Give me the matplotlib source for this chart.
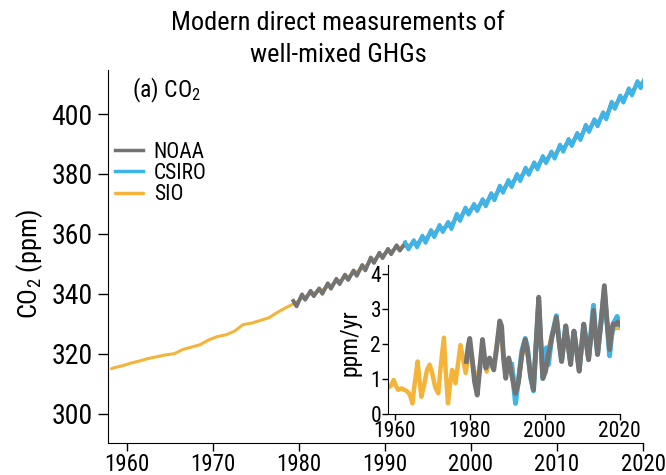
import numpy as np
import matplotlib
matplotlib.use("Agg")
import matplotlib.pyplot as plt
from matplotlib import font_manager

# prefer a narrow sans like the original, fall back to an Arial-like one
installed = {f.name for f in font_manager.fontManager.ttflist}
font = 'Liberation Sans'
for name in ['Liberation Sans Narrow', 'Roboto Condensed', 'Open Sans Condensed', 'Arial Narrow']:
    if name in installed:
        font = name
        break
plt.rcParams['font.family'] = [font, 'DejaVu Sans']
plt.rcParams['mathtext.fontset'] = 'custom'
plt.rcParams['mathtext.rm'] = font
plt.rcParams['mathtext.it'] = font

# colours
c_noaa = '#737373'
c_csiro = '#3db5ea'
c_sio = '#f4b43a'

# ---- main panel: CO2 concentration (ppm) ----
# SIO (Mauna Loa), smooth record
sio_t = [1958.2, 1958.5, 1959.5, 1960.5, 1961.5, 1962.5, 1963.5, 1964.5, 1965.5, 1966.5,
         1967.5, 1968.5, 1969.5, 1970.5, 1971.5, 1972.5, 1973.5, 1974.5, 1975.5, 1976.5,
         1977.5, 1978.5, 1979.5, 1980.5, 1981.5, 1982.5, 1983.5, 1984.5, 1985.5, 1986.5,
         1987.5, 1988.5, 1989.5, 1990.5, 1991.5, 1992.5, 1993.5, 1994.5, 1995.5, 1996.5,
         1997.5, 1998.5, 1999.5, 2000.5, 2001.5, 2002.5, 2003.5, 2004.5, 2005.5, 2006.5,
         2007.5, 2008.5, 2009.5, 2010.5, 2011.5, 2012.5, 2013.5, 2014.5, 2015.5, 2016.5,
         2017.5, 2018.5, 2019.5, 2020.0]
sio_ppm = [315.0, 315.3, 316.0, 316.9, 317.6, 318.4, 319.0, 319.6, 320.0, 321.4,
           322.2, 323.0, 324.6, 325.7, 326.3, 327.5, 329.7, 330.2, 331.1, 332.0,
           333.8, 335.4, 336.8, 338.8, 340.1, 341.0, 342.6, 344.1, 345.5, 346.9,
           348.7, 351.2, 352.8, 354.1, 355.3, 356.0, 356.8, 358.3, 360.2, 361.8,
           362.9, 365.5, 367.6, 368.8, 370.4, 372.4, 374.9, 376.8, 378.8, 380.9,
           382.7, 384.8, 386.3, 388.6, 390.5, 392.5, 395.2, 397.1, 399.4, 402.9,
           405.0, 407.4, 409.8, 410.8]

# NOAA global mean, seasonal high (spring) and low (late summer) per year
noaa_years = list(range(1979, 2021))
noaa_high = [337.6, 339.8, 341.0, 341.8, 343.5, 345.0, 346.4, 347.8, 349.6, 352.1,
             353.7, 355.0, 356.2, 356.9, 357.6, 359.1, 361.0, 362.7, 363.7, 366.4,
             368.5, 369.7, 371.3, 373.3, 375.8, 377.7, 379.7, 381.8, 383.6, 385.7,
             387.2, 389.5, 391.4, 393.4, 396.1, 398.0, 400.3, 403.8, 405.9, 408.3,
             410.7, 412.6]
noaa_low = [335.8, 338.0, 339.2, 340.0, 341.7, 343.2, 344.6, 346.0, 347.8, 350.3,
            351.9, 353.2, 354.4, 355.1, 355.8, 357.3, 359.2, 360.9, 361.9, 364.6,
            366.7, 367.9, 369.5, 371.5, 374.0, 375.9, 377.9, 380.0, 381.8, 383.9,
            385.4, 387.7, 389.6, 391.6, 394.3, 396.2, 398.5, 402.0, 404.1, 406.5,
            408.9, 411.1]

# CSIRO, seasonal high and low per year
csiro_years = list(range(1992, 2021))
csiro_high = [357.2, 357.9, 359.4, 361.3, 363.0, 364.0, 366.7, 368.8, 370.0, 371.6,
              373.6, 376.1, 378.0, 380.0, 382.1, 383.9, 386.0, 387.5, 389.8, 391.7,
              393.7, 396.4, 398.3, 400.6, 404.1, 406.2, 408.6, 411.0, 412.8]
csiro_low = [354.8, 355.5, 357.0, 358.9, 360.6, 361.6, 364.3, 366.4, 367.6, 369.2,
             371.2, 373.7, 375.6, 377.6, 379.7, 381.5, 383.6, 385.1, 387.4, 389.3,
             391.3, 394.0, 395.9, 398.2, 401.7, 403.8, 406.2, 408.6, 410.9]

# ---- inset: growth rate (ppm/yr) ----
sio_gr_t = [1958.2, 1959.0, 1959.7, 1960.3, 1960.9, 1961.4, 1961.8, 1962.5, 1963.1, 1963.8,
            1964.3, 1964.7, 1965.3, 1966.1, 1966.6, 1967.1, 1967.8, 1968.6, 1969.3, 1970.0,
            1970.8, 1971.6, 1972.3, 1973.1, 1973.6, 1974.2, 1974.7, 1975.3, 1975.8, 1976.2,
            1976.9, 1977.5, 1978.0, 1978.9, 1979.5, 1980.0, 1980.6, 1981.3, 1982.0, 1982.7,
            1983.4, 1984.0, 1984.5, 1985.3, 1986.4, 1987.2, 1988.0, 1989.0, 1989.6, 1990.4,
            1991.2, 1992.2, 1993.0, 1993.9, 1994.8, 1995.4, 1996.2, 1997.0, 1997.7, 1998.4,
            1998.9, 1999.5, 2000.3, 2001.0, 2001.9, 2003.1, 2003.8, 2004.5, 2005.6, 2006.9,
            2007.8, 2009.2, 2010.4, 2011.7, 2013.0, 2014.1, 2015.9, 2016.5, 2017.3, 2018.2,
            2019.0, 2020.0]
sio_gr = [0.74, 0.80, 0.96, 0.80, 0.68, 0.70, 0.72, 0.68, 0.65, 0.58,
          0.45, 0.29, 0.85, 1.49, 0.95, 0.48, 0.80, 1.25, 1.40, 1.15,
          0.75, 0.58, 1.40, 2.17, 1.20, 0.29, 0.80, 1.25, 1.05, 0.87,
          1.45, 1.96, 1.70, 1.16, 1.55, 1.95, 1.55, 1.10, 0.95, 1.40,
          1.90, 1.50, 1.20, 1.50, 1.30, 1.95, 2.55, 1.70, 1.10, 1.55,
          1.40, 0.75, 0.95, 1.65, 1.95, 1.70, 1.20, 0.80, 1.95, 3.10,
          2.10, 1.10, 1.40, 1.80, 2.25, 2.65, 2.05, 1.55, 2.45, 1.50,
          2.30, 1.30, 2.45, 1.60, 2.85, 1.80, 3.45, 2.70, 1.90, 2.40,
          2.45, 2.45]

noaa_gr_t = [1979.1, 1979.6, 1980.0, 1980.6, 1981.3, 1982.0, 1982.7, 1983.4, 1983.9, 1984.3,
             1984.8, 1985.3, 1985.9, 1986.4, 1987.2, 1988.0, 1988.5, 1989.0, 1989.6, 1990.0,
             1990.4, 1991.2, 1992.2, 1993.0, 1993.9, 1994.8, 1995.4, 1996.2, 1997.0, 1997.7,
             1998.4, 1998.9, 1999.5, 2000.2, 2001.0, 2001.9, 2003.1, 2003.8, 2004.5, 2005.0,
             2005.6, 2006.2, 2006.9, 2007.3, 2007.8, 2008.5, 2009.2, 2009.8, 2010.4, 2011.0,
             2011.7, 2012.4, 2013.0, 2013.5, 2014.1, 2015.0, 2015.9, 2016.5, 2017.3, 2017.8,
             2018.2, 2019.0, 2019.5, 2020.0]
noaa_gr = [1.49, 1.95, 2.15, 1.60, 0.90, 0.53, 1.30, 2.12, 1.65, 1.30,
           1.50, 1.59, 1.40, 1.25, 1.90, 2.65, 2.50, 1.60, 1.01, 1.35,
           1.59, 1.10, 0.58, 0.90, 1.70, 2.12, 1.80, 1.10, 0.68, 2.00,
           3.33, 2.20, 1.01, 1.20, 1.70, 2.17, 2.75, 2.10, 1.49, 1.95,
           2.51, 2.00, 1.40, 1.90, 2.36, 1.80, 1.21, 1.90, 2.56, 2.10,
           1.54, 2.30, 2.95, 2.30, 1.69, 2.60, 3.66, 2.80, 1.83, 2.30,
           2.56, 2.55, 2.62, 2.56]

csiro_gr_t = [1991.2, 1991.7, 1992.2, 1993.0, 1993.9, 1994.8, 1995.4, 1996.2, 1997.0, 1997.7,
              1998.4, 1998.9, 1999.5, 2000.4, 2001.0, 2001.9, 2003.1, 2003.8, 2004.5, 2005.0,
              2005.6, 2006.2, 2006.9, 2007.3, 2007.8, 2008.5, 2009.2, 2009.8, 2010.4, 2011.0,
              2011.7, 2012.4, 2013.0, 2013.5, 2014.1, 2015.0, 2015.9, 2016.5, 2017.3, 2017.8,
              2018.4, 2019.3, 2020.0]
csiro_gr = [1.40, 0.80, 0.29, 0.95, 1.80, 2.15, 1.90, 1.05, 0.65, 2.00,
            3.25, 2.10, 1.00, 1.88, 1.40, 2.20, 2.80, 2.10, 1.50, 1.95,
            2.50, 2.00, 1.45, 1.90, 2.35, 1.80, 1.25, 1.90, 2.55, 2.10,
            1.55, 2.40, 3.10, 2.40, 1.70, 2.60, 3.55, 2.70, 1.65, 2.20,
            2.60, 2.78, 2.55]


def seasonal(years, high, low):
    # put the spring high and the late-summer low of each year in time order
    t, v = [], []
    for y, h, l in zip(years, high, low):
        t += [y + 0.35, y + 0.72]
        v += [h, l]
    return t, v


fig = plt.figure(figsize=(6.66, 4.75), dpi=100)
ax = fig.add_axes([0.1622, 0.0674, 0.8033, 0.7853])

ax.plot(sio_t, sio_ppm, color=c_sio, lw=2.2, solid_capstyle='round', label='SIO')
t, v = seasonal(noaa_years, noaa_high, noaa_low)
ax.plot(t, v, color=c_noaa, lw=2.8, solid_joinstyle='round', label='NOAA')
t, v = seasonal(csiro_years, csiro_high, csiro_low)
ax.plot(t, v, color=c_csiro, lw=2.8, solid_joinstyle='round', label='CSIRO')

ax.set_xlim(1957.8, 2020)
ax.set_ylim(290.2, 414.7)
ax.set_xticks(np.arange(1960, 2021, 10))
ax.set_yticks(np.arange(300, 401, 20))
ax.tick_params(axis='x', labelsize=16.5, length=6, width=1, direction='out', pad=1.5)
ax.tick_params(axis='y', labelsize=20, length=7, width=1, direction='out', pad=4)
for s in ['top', 'right']:
    ax.spines[s].set_visible(False)
ax.set_ylabel('CO$_2$ (ppm)', fontsize=19)
ax.yaxis.set_label_coords(-0.117, 0.48)

ax.text(0.045, 0.926, '(a) CO$_2$', transform=ax.transAxes, fontsize=17, va='baseline')

h, l = ax.get_legend_handles_labels()
order = [1, 2, 0]
leg = ax.legend([h[i] for i in order], [l[i] for i in order], loc='upper left',
                bbox_to_anchor=(0.013, 0.808), frameon=False, fontsize=15.5,
                handlelength=1.3, handletextpad=0.5, labelspacing=0.02, borderpad=0,
                borderaxespad=0)
for line in leg.get_lines():
    line.set_linewidth(2.5)

fig.text(0.507, 0.952, 'Modern direct measurements of', ha='center', va='center', fontsize=19)
fig.text(0.508, 0.884, 'well-mixed GHGs', ha='center', va='center', fontsize=19)

# ---- inset ----
ins = fig.add_axes([0.5826, 0.1293, 0.3479, 0.3128])
ins.patch.set_alpha(0)
ins.plot(sio_gr_t, sio_gr, color=c_sio, lw=3.2, solid_joinstyle='round')
ins.plot(csiro_gr_t, csiro_gr, color=c_csiro, lw=3.5, solid_joinstyle='round')
ins.plot(noaa_gr_t, noaa_gr, color=c_noaa, lw=3.5, solid_joinstyle='round')
ins.set_xlim(1958.2, 2020)
ins.set_ylim(0, 4.25)
ins.set_xticks([1960, 1980, 2000, 2020])
ins.set_yticks([0, 1, 2, 3, 4])
ins.tick_params(labelsize=15.5, length=4, width=1, pad=1)
for s in ['top', 'right']:
    ins.spines[s].set_visible(False)
ins.set_ylabel('ppm/yr', fontsize=17)
ins.yaxis.set_label_coords(-0.115, 0.475)

fig.savefig('out.png', dpi=100)
